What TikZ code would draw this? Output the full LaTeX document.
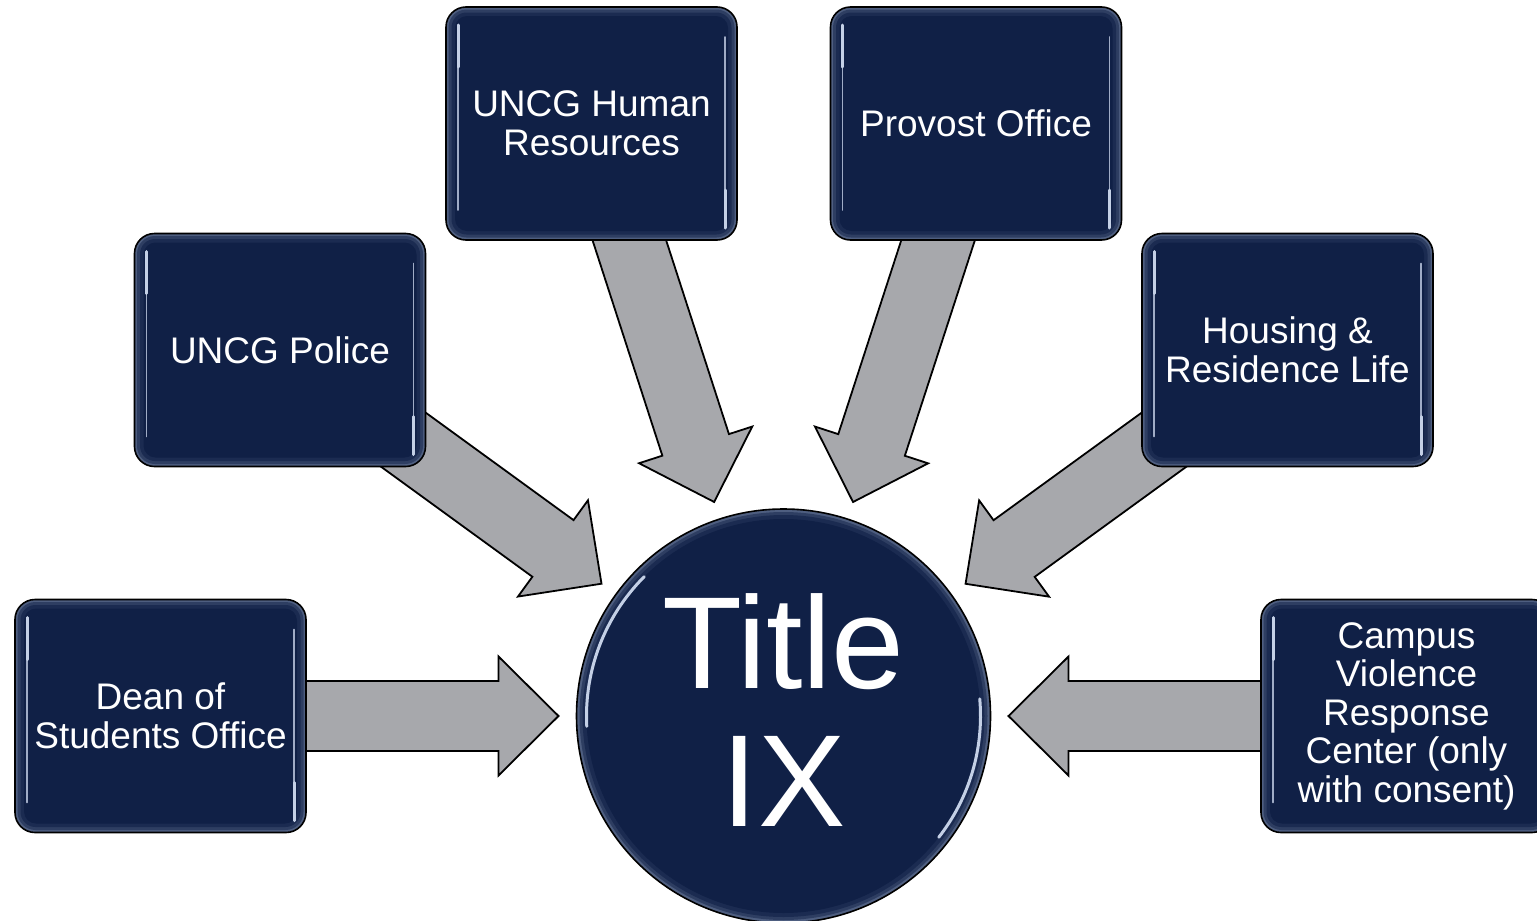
\documentclass[tikz,border=0pt]{standalone}
\usepackage{fontspec}
\setmainfont{Liberation Sans}
\usetikzlibrary{calc}
\pgfdeclarelayer{bg}
\pgfsetlayers{bg,main}
\definecolor{navy}{RGB}{16,32,70}
\definecolor{rimA}{RGB}{78,94,128}
\definecolor{rimB}{RGB}{46,62,98}
\definecolor{rimC}{RGB}{27,43,81}
\definecolor{arrowgray}{RGB}{167,168,172}
\definecolor{hilite}{RGB}{196,208,230}
\newcommand\radarrow[2]{%
  \coordinate (#2b) at ($(#2)!60pt!(#1.center)$);
  \filldraw[flow] ($(#1.center)!35pt!90:(#2)$) -- ($(#2b)!35pt!90:(#2)$) -- ($(#2b)!59.5pt!90:(#2)$) -- (#2) -- ($(#2b)!59.5pt!-90:(#2)$) -- ($(#2b)!35pt!-90:(#2)$) -- ($(#1.center)!35pt!-90:(#2)$) -- cycle;}
\tikzset{
  flow/.style={fill=arrowgray, draw=black, line width=1.8pt, line join=miter},
  box/.style={rectangle, rounded corners=20pt, minimum width=291pt, minimum height=233pt,
    inner sep=0pt, fill=rimA, draw=black, line width=1.6pt, text=white, align=center,
    font=\fontsize{37pt}{38.5pt}\selectfont,
    path picture={
      \fill[rimB, rounded corners=18pt] ([xshift=2.5pt,yshift=-2.5pt]path picture bounding box.north west) rectangle ([xshift=-2.5pt,yshift=2.5pt]path picture bounding box.south east);
      \fill[rimC, rounded corners=15pt] ([xshift=5.5pt,yshift=-5.5pt]path picture bounding box.north west) rectangle ([xshift=-5.5pt,yshift=5.5pt]path picture bounding box.south east);
      \fill[navy, rounded corners=12pt] ([xshift=9pt,yshift=-9pt]path picture bounding box.north west) rectangle ([xshift=-9pt,yshift=9pt]path picture bounding box.south east);
      \draw[hilite, line width=3pt, line cap=round] ([xshift=12pt,yshift=-18pt]path picture bounding box.north west) -- ([xshift=12pt,yshift=-60pt]path picture bounding box.north west);
      \draw[hilite, line width=1.6pt, line cap=round, opacity=0.8] ([xshift=12pt,yshift=-18pt]path picture bounding box.north west) -- ([xshift=12pt,yshift=30pt]path picture bounding box.south west);
      \draw[hilite, line width=3pt, line cap=round] ([xshift=-12pt,yshift=12pt]path picture bounding box.south east) -- ([xshift=-12pt,yshift=50pt]path picture bounding box.south east);
      \draw[hilite, line width=1.6pt, line cap=round, opacity=0.8] ([xshift=-12pt,yshift=-30pt]path picture bounding box.north east) -- ([xshift=-12pt,yshift=12pt]path picture bounding box.south east);
    }},
  hub/.style={circle, minimum size=414pt, inner sep=0pt, fill=rimA, draw=black, line width=1.6pt,
    text=white, align=center, font=\fontsize{131pt}{138pt}\selectfont,
    path picture={
      \fill[rimB] (path picture bounding box.center) circle (204pt);
      \fill[rimC] (path picture bounding box.center) circle (201pt);
      \fill[navy] (path picture bounding box.center) circle (197pt);
      \draw[hilite, line width=3pt, line cap=round] ([shift={(183:197pt)}]path picture bounding box.center) arc (183:135:197pt);
      \draw[hilite, line width=3pt, line cap=round] ([shift={(5:197pt)}]path picture bounding box.center) arc (5:-38:197pt);
    }}
}
\begin{document}
\begin{tikzpicture}[x=1pt,y=-1pt]
\useasboundingbox (0,0) rectangle (1537,921);
\begin{pgfonlayer}{bg}
\fill[white] (0,0) rectangle (1537,921);
\end{pgfonlayer}
\node[hub] (title) at (783.5,716) {Title\\IX\rule[-12pt]{0pt}{12pt}};
\node[box] (police) at (280,350) {UNCG Police};
\node[box] (hr) at (591.5,123.5) {UNCG Human\\Resources};
\node[box] (provost) at (976,123.5) {Provost Office};
\node[box] (housing) at (1287.5,350) {Housing \&\\Residence Life};
\node[box] (dean) at (160.5,716) {Dean of\\Students Office};
\node[box] (cvrc) at (1406.5,716) {Campus\\Violence\\Response\\Center (only\\with consent)};
\coordinate (tpolice) at ($(title.center)!225pt!(police.center)$);
\coordinate (thr) at ($(title.center)!225pt!(hr.center)$);
\coordinate (tprovost) at ($(title.center)!225pt!(provost.center)$);
\coordinate (thousing) at ($(title.center)!225pt!(housing.center)$);
\coordinate (tdean) at ($(title.center)!225pt!(dean.center)$);
\coordinate (tcvrc) at ($(title.center)!225pt!(cvrc.center)$);
\begin{pgfonlayer}{bg}
\radarrow{police}{tpolice}
\radarrow{hr}{thr}
\radarrow{provost}{tprovost}
\radarrow{housing}{thousing}
\radarrow{dean}{tdean}
\radarrow{cvrc}{tcvrc}
\end{pgfonlayer}
\end{tikzpicture}
\end{document}
